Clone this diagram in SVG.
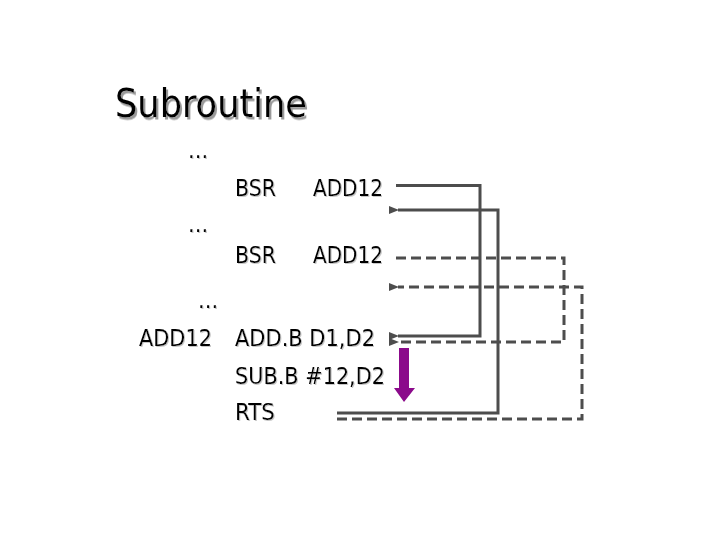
<svg xmlns="http://www.w3.org/2000/svg" width="720" height="540" viewBox="0 0 720 540">
<style>
.t{font-family:"DejaVu Sans Condensed","DejaVu Sans",sans-serif;font-size:22.5px;fill:#000;filter:url(#sh1)}
.title{font-family:"DejaVu Sans Condensed","DejaVu Sans",sans-serif;font-size:39px;fill:#000;filter:url(#sh2)}
.c{fill:none;stroke:#4d4d4d;stroke-width:3}
.d{stroke-dasharray:10 5}
</style>
<defs>
<filter id="sh1" x="-10%" y="-20%" width="130%" height="150%">
<feDropShadow dx="1" dy="1" stdDeviation="0" flood-color="#c8c8c8"/>
</filter>
<filter id="sh2" x="-10%" y="-20%" width="130%" height="150%">
<feDropShadow dx="2" dy="2.5" stdDeviation="0" flood-color="#9a9a9a"/>
</filter>
<marker id="ah" markerUnits="userSpaceOnUse" markerWidth="10" markerHeight="8" refX="1" refY="4" orient="auto-start-reverse" viewBox="0 0 10 8">
<path d="M0,4 L10,0 L10,8 Z" fill="#4d4d4d"/>
</marker>
</defs>
<rect width="720" height="540" fill="#fff"/>
<g id="title">
<text class="title" x="115" y="117" textLength="192" lengthAdjust="spacingAndGlyphs">Subroutine</text>
</g>
<g id="dots1"><text class="t" x="188" y="158">…</text></g>
<g id="bsr1">
<text class="t" x="235" y="196" textLength="41" lengthAdjust="spacingAndGlyphs">BSR</text>
<text class="t" x="313" y="196" textLength="70" lengthAdjust="spacingAndGlyphs">ADD12</text>
</g>
<g id="dots2"><text class="t" x="188" y="232">…</text></g>
<g id="bsr2">
<text class="t" x="235" y="263" textLength="41" lengthAdjust="spacingAndGlyphs">BSR</text>
<text class="t" x="313" y="263" textLength="70" lengthAdjust="spacingAndGlyphs">ADD12</text>
</g>
<g id="dots3"><text class="t" x="198" y="308">…</text></g>
<g id="sub">
<text class="t" x="139" y="346" textLength="73" lengthAdjust="spacingAndGlyphs">ADD12</text>
<text class="t" x="235" y="346" textLength="140" lengthAdjust="spacingAndGlyphs">ADD.B D1,D2</text>
<text class="t" x="235" y="384" textLength="150" lengthAdjust="spacingAndGlyphs">SUB.B #12,D2</text>
<text class="t" x="235" y="420" textLength="40" lengthAdjust="spacingAndGlyphs">RTS</text>
</g>
<g id="connectors">
<path class="c" d="M396,185.5 H480 V336 H398" marker-end="url(#ah)"/>
<path class="c" d="M337,413 H498 V210 H398" marker-end="url(#ah)"/>
<path class="c d" d="M396,258 H564 V342 H398" marker-end="url(#ah)"/>
<path class="c d" d="M337,419 H582 V287 H398" marker-end="url(#ah)"/>
</g>
<g id="purple-arrow">
<path d="M399,348 H409 V388 H415 L404,402 L394,388 H399 Z" fill="#8b0a8b"/>
</g>
</svg>
